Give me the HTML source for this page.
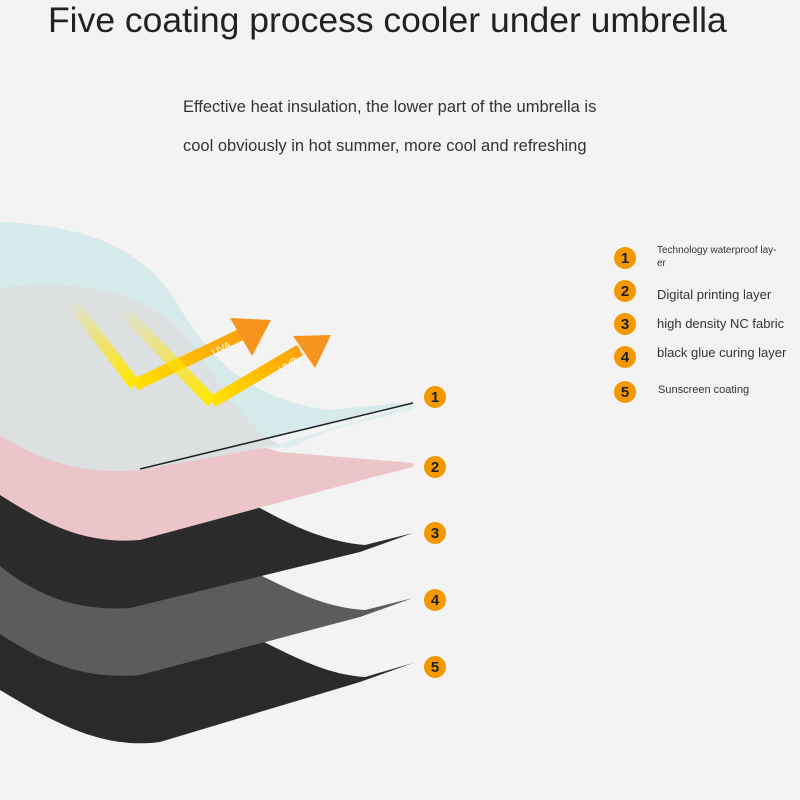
<!DOCTYPE html>
<html><head><meta charset="utf-8"><style>
body{margin:0;background:#f3f3f3;}
#w{position:relative;width:800px;height:800px;overflow:hidden;background:#f3f3f3;font-family:"Liberation Sans",sans-serif;color:#222;}
.t{position:absolute;white-space:nowrap;}
</style></head><body><div id="w">
<svg width="800" height="800" style="position:absolute;left:0;top:0">
<defs>
<linearGradient id="ga" gradientUnits="userSpaceOnUse" x1="130" y1="390" x2="270" y2="320"><stop offset="0" stop-color="#ffe600"/><stop offset="0.5" stop-color="#ffb400"/><stop offset="1" stop-color="#f7941d"/></linearGradient>
<linearGradient id="gb" gradientUnits="userSpaceOnUse" x1="210" y1="405" x2="330" y2="335"><stop offset="0" stop-color="#ffe600"/><stop offset="0.5" stop-color="#ffb400"/><stop offset="1" stop-color="#f7941d"/></linearGradient>
<linearGradient id="gs1" gradientUnits="userSpaceOnUse" x1="70" y1="300" x2="135" y2="385"><stop offset="0" stop-color="#ffe600" stop-opacity="0"/><stop offset="1" stop-color="#ffe600"/></linearGradient>
<linearGradient id="gs2" gradientUnits="userSpaceOnUse" x1="120" y1="307" x2="212" y2="402"><stop offset="0" stop-color="#ffe600" stop-opacity="0"/><stop offset="1" stop-color="#ffe600"/></linearGradient>
</defs>
<path d="M0,632 C120,625 220,625 260,640 C300,660 330,675 365,677 L413,663 L360,682 L160,742 C100,750 50,720 0,690 Z" fill="#2a2a2a"/>
<path d="M0,560 C150,555 230,560 260,575 C300,595 330,608 365,610 L413,598 L360,617 L140,675 C80,680 40,660 0,634 Z" fill="#5b5d5d"/>
<path d="M0,480 C150,480 230,490 260,508 C300,530 330,542 365,545 L413,533 L360,552 L130,608 C70,612 30,590 0,566 Z" fill="#2b2b2b"/>
<path d="M0,420 C150,415 240,440 280,452 L413,463 L413,467 L370,478 L140,540 C80,545 40,520 0,495 Z" fill="#ebc5ca"/>
<path d="M0,222 C80,225 140,245 175,300 C210,360 250,400 330,410 L413,402 L413,404 L140,470 C80,475 40,460 0,435 Z" fill="#d6eaeb"/>
<path d="M265,448 L413,404 L413,409 L330,430 L290,448 Z" fill="#d6eaeb" opacity="0.7"/>
<path d="M0,288 C80,278 150,292 190,340 C225,395 250,430 280,445 L140,470 C80,475 40,460 0,435 Z" fill="#dce0e1"/>
<path d="M140,469 L413,403" stroke="#222" stroke-width="1.5"/>
<polyline points="135,385 240,335" fill="none" stroke="url(#ga)" stroke-width="12"/>
<polyline points="70,300 135,385" fill="none" stroke="url(#gs1)" stroke-width="12"/>
<polygon points="230,318 271,320 252,356" fill="#f7941d"/>
<polyline points="212,402 300,350" fill="none" stroke="url(#gb)" stroke-width="12"/>
<polyline points="120,307 212,402" fill="none" stroke="url(#gs2)" stroke-width="12"/>
<polygon points="293,336 331,335 315,368" fill="#f7941d"/>
<text x="214" y="356" font-size="10" fill="#fff" transform="rotate(-27 214 356)">UVA</text>
<text x="281" y="373" font-size="10" fill="#fff" transform="rotate(-30 281 373)">UVB</text>
<g fill="#f39800">
<circle cx="435" cy="397" r="11"/><circle cx="435" cy="467" r="11"/><circle cx="435" cy="533" r="11"/><circle cx="435" cy="600" r="11"/><circle cx="435" cy="667" r="11"/>
<circle cx="625" cy="258" r="11"/><circle cx="625" cy="291" r="11"/><circle cx="625" cy="324" r="11"/><circle cx="625" cy="357" r="11"/><circle cx="625" cy="392" r="11"/>
</g>
<g font-size="15" font-weight="bold" fill="#222" text-anchor="middle">
<text x="435" y="402">1</text><text x="435" y="472">2</text><text x="435" y="538">3</text><text x="435" y="605">4</text><text x="435" y="672">5</text>
<text x="625" y="263">1</text><text x="625" y="296">2</text><text x="625" y="329">3</text><text x="625" y="362">4</text><text x="625" y="397">5</text>
</g>
</svg>
<div class="t" style="left:48px;top:0px;font-size:35.5px;color:#222;">Five coating process cooler under umbrella</div>
<div class="t" style="left:183px;top:98px;font-size:16.5px;color:#333;">Effective heat insulation, the lower part of the umbrella is</div>
<div class="t" style="left:183px;top:137px;font-size:16.5px;color:#333;">cool obviously in hot summer, more cool and refreshing</div>
<div class="t" style="left:657px;top:244px;font-size:10px;line-height:13px;color:#333;">Technology waterproof lay-<br>er</div>
<div class="t" style="left:657px;top:287px;font-size:13px;color:#333;">Digital printing layer</div>
<div class="t" style="left:657px;top:316px;font-size:13px;color:#333;">high density NC fabric</div>
<div class="t" style="left:657px;top:345px;font-size:13px;color:#333;">black glue curing layer</div>
<div class="t" style="left:658px;top:384px;font-size:11px;color:#333;">Sunscreen coating</div>
</div></body></html>
